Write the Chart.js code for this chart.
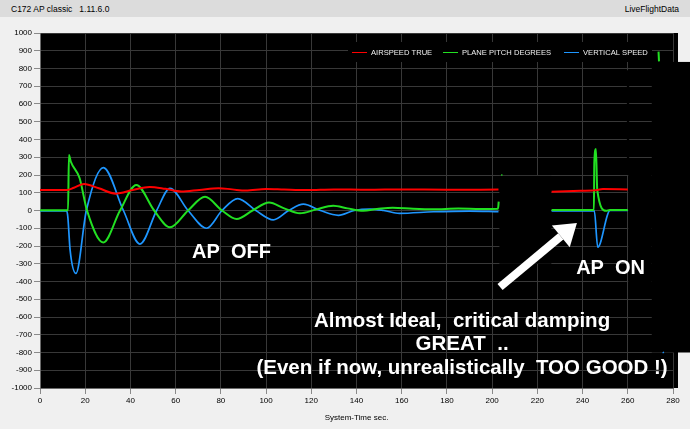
<!DOCTYPE html>
<html>
<head>
<meta charset="utf-8">
<title>C172 AP classic</title>
<script src="https://cdn.jsdelivr.net/npm/chart.js@4.4.0/dist/chart.umd.min.js"></script>
<style>
  html, body { margin: 0; padding: 0; width: 690px; height: 429px; overflow: hidden;
    background: #f0f0f0; font-family: "Liberation Sans", Arial, sans-serif; }
  #titlebar { position: absolute; left: 0; top: 0; width: 690px; height: 17px; background: #dcdcdc; font-size: 8.5px; color: #000; }
  #titlebar .left { position: absolute; left: 11px; top: 4px; white-space: pre; }
  #titlebar .right { position: absolute; right: 11px; top: 4px; }
  #panel { position: absolute; left: 0; top: 17px; width: 690px; height: 412px; }
</style>
</head>
<body>
<div id="titlebar"><span class="left">C172 AP classic   1.11.6.0</span><span class="right">LiveFlightData</span></div>
<div id="panel"><canvas id="flightChart"></canvas></div>
<script>
// valores (null = hueco en el registro)
const seriesNames = ["AIRSPEED TRUE", "PLANE PITCH DEGREES", "VERTICAL SPEED"];
const seriesColors = ["#ff0000", "#22e022", "#1e96ff"];

const airspeedTime   = [0, 12, 15, 19.5, 26, 33.5, 41, 48.5, 55.5, 62.5, 70.5, 79, 85, 91, 100, 108, 118, 130, 145, 160, 180, 202.8, 203.5,
                        226.3, 236, 245.5, 249, 260];
const airspeedValues = [115, 115, 128, 149, 125, 95, 115, 133, 122, 107, 116, 126, 119, 112, 121, 118, 115, 119, 117, 119, 117, 118, null,
                        106, 110, 114, 121, 119];

const pitchTime   = [0, 12.4, 12.8, 13.6, 17.5, 20.8, 28, 35.4, 42.6, 50.5, 57.5, 65.5, 73, 80.5, 87, 94, 101.3, 108, 115, 122, 129.7,
                     136, 143, 149, 156, 165, 174, 185, 195, 202.6, 202.9, 203.5, 204.1, 204.5, 205,
                     226.3, 245, 245.2, 245.9, 246.5, 250.4, 252, 260, 261, 273.6, 273.8];
const pitchValues = [2, 2, 313, 276, 183, 0, -180, 0, 144, 0, -95, 0, 77, 0, -48, 0, 45, 12, -16, 5, 27,
                     12, -1, 8, 16, 10, 7, 11, 9, 10, 50, null, 200, 200, null,
                     3, 3, 270, 346, 115, -2, 3, 3, null, 895, 840];

const verticalTime   = [0, 11.8, 12.3, 13.3, 15.9, 20.5, 28, 36.9, 44.2, 51.6, 57.5, 65.5, 73.7, 80.5, 87.5, 95.5, 103.2, 110, 116.5,
                        124, 132, 139, 146, 152, 159, 174, 190, 202.8, 203.5,
                        226.3, 245.2, 246.7, 252.2, 260, 261, 275.5, 275.9];
const verticalValues = [-2, -2, -35, -220, -354, 0, 242, 0, -189, 0, 125, 0, -100, 0, 67, 0, -53, 0, 36,
                        0, -27, 0, 8, 0, -16, -7, -3, -6, null,
                        -2, -2, -207, 0, 0, null, -798, -802];

const xTicks = { min: 0, max: 280, step: 20 };
const yTicks = { min: -1000, max: 1000, step: 100 };

const notes = [
  { text: "AP  OFF", t: 84.7, v: -268 },
  { text: "AP  ON", t: 252.4, v: -359 },
  { text: "Almost Ideal,  critical damping", t: 186.7, v: -656 },
  { text: "GREAT  ..", t: 186.7, v: -786 },
  { text: "(Even if now, unrealistically  TOO GOOD !)", t: 186.7, v: -921 }
];

function toPoints(times, values) {
  return times.map((t, i) => ({ x: t, y: values[i] }));
}

// fondo negro del area de trazado
const plotBackground = {
  id: "plotBackground",
  beforeDraw(chart) {
    const { ctx, chartArea: a } = chart;
    ctx.save();
    ctx.fillStyle = "#000";
    ctx.fillRect(a.left, a.top, a.right - a.left + 5, a.bottom - a.top);
    ctx.restore();
  }
};

// zonas tapadas en la captura original + leyenda
const coverPatches = {
  id: "coverPatches",
  beforeDatasetsDraw(chart) {
    const { ctx, chartArea: a, scales: { x, y } } = chart;
    const rect = (t0, t1, v0, v1) => {
      const x0 = x.getPixelForValue(t0), x1 = t1 === null ? chart.width : x.getPixelForValue(t1);
      const y0 = y.getPixelForValue(v0), y1 = y.getPixelForValue(v1);
      ctx.fillRect(x0, y0, x1 - x0, y1 - y0);
    };
    ctx.save();
    ctx.fillStyle = "#000";
    rect(203.2, 226.2, 195, -300);
    rect(260.2, 270.6, 200, -430);
    rect(259.6, 260.6, 790, 200);
    rect(270.6, null, 837, -800);
    ctx.fillRect(a.right - 325, a.top + 9, 304, 20);
    ctx.restore();
  },
  afterDatasetsDraw(chart) {
    const { ctx, chartArea: a, scales: { x, y } } = chart;
    ctx.save();
    // leyenda (posiciones medidas desde el borde derecho)
    const swatchOffsets = [321, 230, 109];
    ctx.font = "7.6px 'Liberation Sans', Arial, sans-serif";
    ctx.textBaseline = "middle";
    const ly = a.top + 19.5;
    seriesNames.forEach((name, i) => {
      const lx = a.right - swatchOffsets[i];
      ctx.strokeStyle = seriesColors[i];
      ctx.lineWidth = 1;
      ctx.beginPath();
      ctx.moveTo(lx, ly);
      ctx.lineTo(lx + 15, ly);
      ctx.stroke();
      ctx.fillStyle = "#f0f0f0";
      ctx.fillText(name, lx + 19, ly);
    });
    // flecha
    const tx = x.getPixelForValue(203.5), ty = y.getPixelForValue(-431);
    const hx = x.getPixelForValue(237.5), hy = y.getPixelForValue(-70);
    const ang = Math.atan2(hy - ty, hx - tx);
    const headLen = 21, headW = 14;
    const bx = hx - headLen * Math.cos(ang), by = hy - headLen * Math.sin(ang);
    ctx.strokeStyle = "#fff";
    ctx.lineWidth = 8;
    ctx.beginPath();
    ctx.moveTo(tx, ty);
    ctx.lineTo(bx, by);
    ctx.stroke();
    ctx.fillStyle = "#fff";
    ctx.beginPath();
    ctx.moveTo(hx, hy);
    ctx.lineTo(bx + headW * Math.sin(ang), by - headW * Math.cos(ang));
    ctx.lineTo(bx - headW * Math.sin(ang), by + headW * Math.cos(ang));
    ctx.closePath();
    ctx.fill();
    // textos
    ctx.textAlign = "center";
    ctx.textBaseline = "alphabetic";
    notes.forEach((n, i) => {
      ctx.font = (i < 2 ? "bold 20px" : "bold 20.5px") + " 'Liberation Sans', Arial, sans-serif";
      ctx.fillText(n.text, x.getPixelForValue(n.t), y.getPixelForValue(n.v));
    });
    ctx.restore();
  }
};

Chart.defaults.font.family = "'Liberation Sans', Arial, sans-serif";
Chart.defaults.font.size = 8;
Chart.defaults.color = "#000";

new Chart(document.getElementById("flightChart"), {
  type: "line",
  data: {
    datasets: [
      { label: seriesNames[0], data: toPoints(airspeedTime, airspeedValues), borderColor: seriesColors[0], borderWidth: 2 },
      { label: seriesNames[1], data: toPoints(pitchTime, pitchValues), borderColor: seriesColors[1], borderWidth: 2 },
      { label: seriesNames[2], data: toPoints(verticalTime, verticalValues), borderColor: seriesColors[2], borderWidth: 1.7 }
    ]
  },
  options: {
    responsive: true,
    maintainAspectRatio: false,
    animation: false,
    parsing: false,
    layout: { padding: { top: 16, right: 17, left: 0, bottom: 0 } },
    elements: {
      point: { radius: 0 },
      line: { cubicInterpolationMode: "monotone", fill: false }
    },
    scales: {
      x: {
        type: "linear",
        min: xTicks.min,
        max: xTicks.max,
        afterFit(scale) { scale.height = 41; },
        ticks: { stepSize: xTicks.step, padding: 2, autoSkip: false, maxRotation: 0, callback: v => String(v) },
        grid: { color: "#383838", tickColor: "#8a8a8a", tickLength: 6 },
        border: { color: "#6a6a6a" },
        title: { display: true, text: "System-Time sec.", padding: { top: 2, bottom: 6 } }
      },
      y: {
        type: "linear",
        min: yTicks.min,
        max: yTicks.max,
        afterFit(scale) { scale.width = 40; },
        ticks: { stepSize: yTicks.step, padding: 2, autoSkip: false, callback: v => String(v) },
        grid: { color: "#383838", tickColor: "#8a8a8a", tickLength: 6 },
        border: { color: "#6a6a6a" }
      }
    },
    plugins: {
      legend: { display: false },
      tooltip: { enabled: false }
    }
  },
  plugins: [plotBackground, coverPatches]
});
</script>
</body>
</html>
